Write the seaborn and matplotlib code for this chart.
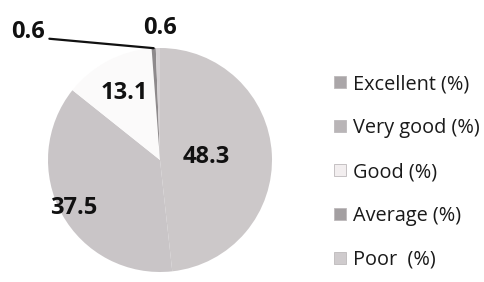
import numpy as np
import matplotlib
matplotlib.use("Agg")
import matplotlib.pyplot as plt
import seaborn as sns

# ---- data ----
categories = ["Excellent (%)", "Very good (%)", "Good (%)", "Average (%)", "Poor  (%)"]
values = [48.3, 37.5, 13.1, 0.6, 0.6]
value_labels = ["48.3", "37.5", "13.1", "0.6", "0.6"]
colors = ["#ccc8c9", "#c9c5c7", "#fbfafa", "#8e8a8c", "#d6d2d4"]
legend_colors = ["#aaa6a8", "#b9b5b7", "#f2eeef", "#a39fa1", "#cfcbcd"]

sns.set_theme(style="white")
plt.rcParams["font.family"] = ["Open Sans", "DejaVu Sans"]

fig = plt.figure(figsize=(4.85, 2.82), dpi=100)
# pie centre ~ (160, 160) px, radius ~112 px
ax = fig.add_axes([48 / 485, 10 / 282, 224 / 485, 224 / 282])

wedges, _ = ax.pie(values, colors=colors, startangle=90, counterclock=False,
                   wedgeprops=dict(linewidth=0), radius=1)
ax.set_xlim(-1, 1)
ax.set_ylim(-1, 1)
ax.set_aspect("equal")
ax.axis("off")

# label distance from centre for each wedge (fraction of radius)
dist = [0.41, 0.88, 0.68]
for w, lab, d in zip(wedges[:3], value_labels[:3], dist):
    ang = np.deg2rad((w.theta1 + w.theta2) / 2)
    ax.text(d * np.cos(ang), d * np.sin(ang), lab, ha="center", va="center",
            fontsize=17, fontweight="bold", color="#111111")

# tiny slices: Average with leader line, Poor just above the top
w_avg, w_poor = wedges[3], wedges[4]
a = np.deg2rad((w_avg.theta1 + w_avg.theta2) / 2)
tip = (np.cos(a), np.sin(a))
ax.annotate(value_labels[3], xy=tip, xytext=(-1.18, 1.14),
            ha="center", va="center", fontsize=17, fontweight="bold",
            color="#111111", annotation_clip=False,
            arrowprops=dict(arrowstyle="-", color="#111111", lw=1.6,
                            shrinkA=1, shrinkB=0, relpos=(1.0, 0.25)))
p = np.deg2rad((w_poor.theta1 + w_poor.theta2) / 2)
ax.text(np.cos(p) + 0.02, 1.18, value_labels[4], ha="center", va="center",
        fontsize=17, fontweight="bold", color="#111111", clip_on=False)

# legend
handles = [plt.Line2D([], [], marker="s", linestyle="none", markersize=8,
                      markerfacecolor=c, markeredgecolor="#bdb9bb", markeredgewidth=0.6)
           for c in legend_colors]
fig.legend(handles, categories, loc="center left", bbox_to_anchor=(315 / 485, 0.39),
           frameon=False, fontsize=14.3, handlelength=0.7, handletextpad=0.3,
           labelspacing=1.2, labelcolor="#1a1a1a")

fig.savefig("out.png", dpi=100, facecolor="white")
